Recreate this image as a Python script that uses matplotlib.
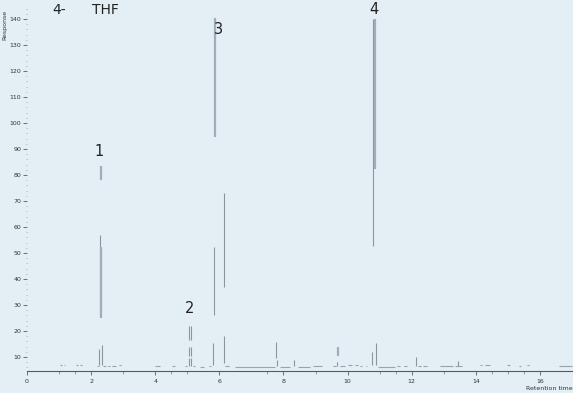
import matplotlib
matplotlib.use("Agg")
import matplotlib.pyplot as plt

# ---- data ----
# thin peak segments: retention time, lower and upper response
thin_rt = [2.27, 2.24, 2.33, 5.05, 5.11, 5.05, 5.11, 5.05, 5.11, 5.83, 6.13, 5.80, 6.15,
           10.79, 10.75, 10.87, 7.76, 7.79, 8.33, 12.14, 13.45, 9.66]
thin_lo = [25.8, 6.9, 6.9, 16.5, 16.5, 10.4, 10.4, 6.5, 6.5, 26.2, 36.9, 6.9, 7.5,
           52.7, 6.9, 6.9, 9.5, 6.5, 6.5, 6.5, 6.5, 6.5]
thin_hi = [56.9, 13.1, 14.6, 21.9, 21.9, 13.8, 13.8, 9.6, 9.6, 52.3, 73.1, 15.5, 18.0,
           140.0, 11.9, 15.4, 15.8, 9.0, 9.0, 10.0, 8.5, 8.0]
# thick (overlapping) peak segments
thick_rt = [2.30, 2.30, 5.86, 10.86, 9.70]
thick_lo = [78.1, 25.0, 94.6, 82.3, 10.4]
thick_hi = [83.5, 52.3, 140.4, 140.0, 13.8]
# baseline fragments
base_start = [1.03, 1.15, 1.53, 1.65, 2.18, 2.37, 2.53, 2.65, 2.87, 3.99, 4.52, 4.93, 5.18, 5.40,
              5.69, 6.18, 6.49, 7.89, 8.45, 8.92, 9.54, 9.76, 10.01, 10.23, 10.39, 10.56,
              10.95, 11.54, 11.76, 12.20, 12.36, 12.88, 13.35, 14.13, 14.30, 14.97, 15.36,
              15.61, 16.60]
base_end = [1.09, 1.19, 1.59, 1.72, 2.25, 2.46, 2.59, 2.78, 2.93, 4.15, 4.62, 4.99, 5.24, 5.52,
            5.73, 6.30, 7.74, 8.20, 8.83, 9.20, 9.64, 9.92, 10.14, 10.32, 10.45, 10.59,
            11.48, 11.63, 11.85, 12.30, 12.48, 13.30, 13.57, 14.20, 14.45, 15.07, 15.40,
            15.65, 17.00]
base_y = [6.8, 6.8, 6.8, 6.8, 6.5, 6.5, 6.5, 6.5, 6.8, 6.5, 6.5, 6.5, 6.5, 6.3,
          6.5, 6.5, 6.3, 6.3, 6.3, 6.5, 6.5, 6.5, 6.8, 6.8, 6.5, 6.5,
          6.3, 6.5, 6.5, 6.5, 6.5, 6.5, 6.5, 6.8, 6.8, 6.8, 6.5,
          6.8, 6.5]

x_ticks = [0, 2, 4, 6, 8, 10, 12, 14, 16]
x_minor = [1, 1.5, 3, 4.5, 5, 7.5, 9, 11, 11.5, 13, 14.5, 15, 15.5]
y_ticks = [10, 20, 30, 40, 50, 60, 70, 80, 90, 100, 110, 120, 130, 140]

labels = ["4-", "THF", "1", "2", "3", "4"]
label_x = [1.00, 2.45, 2.25, 5.08, 5.96, 10.82]
label_y = [143.5, 143.5, 89.2, 28.5, 135.8, 143.8]
label_size = [10, 10, 10.5, 10.5, 10.5, 10.5]

# ---- figure ----
bg = "#e4eef5"
fig = plt.figure(figsize=(5.73, 3.93), dpi=100, facecolor=bg)
ax = fig.add_axes([27 / 573, 1 - 371 / 393, 1 - 27 / 573, 371 / 393])
ax.set_facecolor(bg)

ax.vlines(thin_rt, thin_lo, thin_hi, colors="#8c949c", linewidth=0.8)
ax.vlines(thick_rt, thick_lo, thick_hi, colors="#a3adb6", linewidth=1.6)
ax.hlines(base_y, base_start, base_end, colors="#9aa2aa", linewidth=0.8)

ax.set_xlim(0, 17.03)
ax.set_ylim(4.6, 147.3)

for s in ["top", "right", "left"]:
    ax.spines[s].set_visible(False)
ax.spines["bottom"].set_color("#555b61")
ax.spines["bottom"].set_linewidth(0.8)

ax.set_xticks(x_ticks)
ax.set_xticklabels([str(t) for t in x_ticks])
ax.set_xticks(x_minor, minor=True)
ax.set_yticks(y_ticks)
ax.set_yticklabels([str(t) for t in y_ticks])
ax.set_yticks([v for v in range(6, 146, 2) if v % 10 != 0], minor=True)

ax.tick_params(axis="x", which="major", length=3, width=0.6, color="#555b61",
               labelsize=4.5, labelcolor="#333", pad=3)
ax.tick_params(axis="x", which="minor", length=2, width=0.5, color="#777")
ax.tick_params(axis="y", which="major", length=3, width=0.6, color="#555b61",
               labelsize=4.5, labelcolor="#333", pad=1)
ax.tick_params(axis="y", which="minor", length=1, width=0.4, color="#888")

fig.text(5 / 573, 1 - 25 / 393, "Response", rotation=90, fontsize=4.5, color="#333",
         ha="center", va="center")
fig.text(1.0, 1 - 389 / 393, "Retention time", fontsize=4.5, color="#333",
         ha="right", va="center")

for t, x, y, s in zip(labels, label_x, label_y, label_size):
    ax.text(x, y, t, fontsize=s, color="#222", ha="center", va="center")

fig.savefig("out.png", dpi=100, facecolor=bg)
